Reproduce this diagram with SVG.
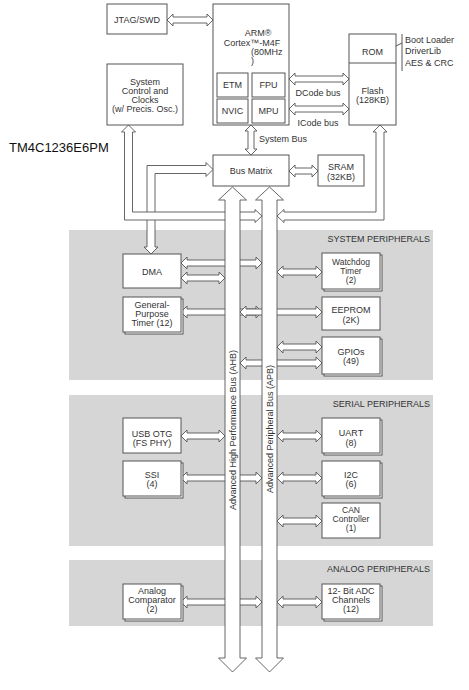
<svg xmlns="http://www.w3.org/2000/svg" width="469" height="690" viewBox="0 0 469 690">
<style>
text{font-family:"Liberation Sans",Arial,sans-serif;font-size:9px;fill:#333;text-anchor:middle}
.box{fill:#fff;stroke:#555;stroke-width:1}
.arr{fill:#fff;stroke:#555;stroke-width:0.9;stroke-linejoin:miter}
.panel{fill:#d6d6d6;stroke:none}
.pl{text-anchor:end}
.st{text-anchor:start}
.sm{font-size:8.5px}
</style>
<rect width="469" height="690" fill="#fff"/>
<g id="panels">
<rect class="panel" x="69" y="230" width="364" height="150"/>
<text class="pl" x="430" y="242">SYSTEM PERIPHERALS</text>
<rect class="panel" x="69" y="395" width="364" height="151"/>
<text class="pl" x="430" y="407">SERIAL PERIPHERALS</text>
<rect class="panel" x="69" y="560" width="364" height="66"/>
<text class="pl" x="430" y="572">ANALOG PERIPHERALS</text>
</g>
<text id="title" class="st" x="9" y="152" style="font-size:13px;fill:#111">TM4C1236E6PM</text>
<g id="connectors">
<path class="arr" d="M167,20 L173,14 L173,17 L207,17 L207,14 L213,20 L207,26 L207,23 L173,23 L173,26 Z"/>
<path class="arr" d="M289,79 L295,73 L295,76 L343,76 L343,73 L349,79 L343,85 L343,82 L295,82 L295,85 Z"/>
<text x="318" y="96">DCode bus</text>
<path class="arr" d="M289,109 L295,103 L295,106 L343,106 L343,103 L349,109 L343,115 L343,112 L295,112 L295,115 Z"/>
<text x="318" y="126">ICode bus</text>
<path class="arr" d="M251,125 L257,131 L254,131 L254,149 L257,149 L251,155 L245,149 L248,149 L248,131 L245,131 Z"/>
<text class="st" x="259" y="142">System Bus</text>
<path class="arr" d="M289,171 L295,165 L295,168 L312,168 L312,165 L318,171 L312,177 L312,174 L295,174 L295,177 Z"/>
<path class="arr" d="M213,169.5 L206,176.5 L206,173.5 L155,173.5 L155,247 L158,247 L151,254 L144,247 L147,247 L147,165.5 L206,165.5 L206,162.5 Z"/>
<path class="arr" d="M128.5,125 L135.5,132 L132.5,132 L132.5,212 L255,212 L255,209.5 L262,216 L255,222.5 L255,220 L124.5,220 L124.5,132 L121.5,132 Z"/>
<path class="arr" d="M380,125 L387,132 L384,132 L384,220 L284,220 L284,222.5 L277,216 L284,209.5 L284,212 L376,212 L376,132 L373,132 Z"/>
<path class="arr" d="M181,263 L187,257 L187,260 L256,260 L256,257 L262,263 L256,269 L256,266 L187,266 L187,269 Z"/>
<path class="arr" d="M181,312 L187,306 L187,309 L256,309 L256,306 L262,312 L256,318 L256,315 L187,315 L187,318 Z"/>
<path class="arr" d="M240,312 L246,306 L246,309 L316,309 L316,306 L322,312 L316,318 L316,315 L246,315 L246,318 Z"/>
<path class="arr" d="M240,363 L246,357 L246,360 L316,360 L316,357 L322,363 L316,369 L316,366 L246,366 L246,369 Z"/>
<path class="arr" d="M181,478 L187,472 L187,475 L256,475 L256,472 L262,478 L256,484 L256,481 L187,481 L187,484 Z"/>
<path class="arr" d="M181,602 L187,596 L187,599 L256,599 L256,596 L262,602 L256,608 L256,605 L187,605 L187,608 Z"/>
<path id="ahb" class="arr" d="M232.5,187 L246.5,200 L240,200 L240,658 L246.5,658 L232.5,672 L218.5,658 L225,658 L225,200 L218.5,200 Z"/>
<path id="apb" class="arr" d="M269.5,187 L283.5,200 L277,200 L277,658 L283.5,658 L269.5,672 L255.5,658 L262,658 L262,200 L255.5,200 Z"/>
<text transform="translate(236,430) rotate(-90)">Advanced High Performance Bus (AHB)</text>
<text transform="translate(273,429) rotate(-90)">Advanced Peripheral Bus (APB)</text>
<path class="arr" d="M181,278 L187,272 L187,275 L219,275 L219,272 L225,278 L219,284 L219,281 L187,281 L187,284 Z"/>
<path class="arr" d="M277,272 L283,266 L283,269 L316,269 L316,266 L322,272 L316,278 L316,275 L283,275 L283,278 Z"/>
<path class="arr" d="M277,347 L283,341 L283,344 L316,344 L316,341 L322,347 L316,353 L316,350 L283,350 L283,353 Z"/>
<path class="arr" d="M181,436 L187,430 L187,433 L219,433 L219,430 L225,436 L219,442 L219,439 L187,439 L187,442 Z"/>
<path class="arr" d="M277,436 L283,430 L283,433 L316,433 L316,430 L322,436 L316,442 L316,439 L283,439 L283,442 Z"/>
<path class="arr" d="M277,478 L283,472 L283,475 L316,475 L316,472 L322,478 L316,484 L316,481 L283,481 L283,484 Z"/>
<path class="arr" d="M277,521 L283,515 L283,518 L316,518 L316,515 L322,521 L316,527 L316,524 L283,524 L283,527 Z"/>
<path class="arr" d="M277,602 L283,596 L283,599 L316,599 L316,596 L322,602 L316,608 L316,605 L283,605 L283,608 Z"/>
</g>
<g id="jtag"><rect class="box" x="107" y="4" width="60" height="30"/><text x="137" y="23">JTAG/SWD</text></g>
<g id="arm">
<rect class="box" x="213" y="4" width="76" height="121"/>
<text x="258" y="36">ARM®</text>
<text x="252" y="46">Cortex™-M4F</text>
<text class="st" x="251" y="55">(80MHz</text>
<text class="st" x="251" y="64">)</text>
<rect class="box" x="217" y="73" width="31" height="24"/><text x="232.5" y="88">ETM</text>
<rect class="box" x="252" y="73" width="33" height="24"/><text x="268.5" y="88">FPU</text>
<rect class="box" x="217" y="99" width="31" height="24"/><text x="232.5" y="114">NVIC</text>
<rect class="box" x="252" y="99" width="33" height="24"/><text x="268.5" y="114">MPU</text>
</g>
<g id="memory">
<rect class="box" x="349" y="34" width="47" height="91"/>
<line x1="349" y1="63" x2="396" y2="63" stroke="#555" stroke-width="1"/>
<text x="372.5" y="55">ROM</text>
<text x="372.5" y="94">Flash</text>
<text x="372.5" y="103">(128KB)</text>
<path d="M396,46 L402,43 M402,34 L402,71" fill="none" stroke="#555" stroke-width="1"/>
<text class="st" x="405" y="43">Boot Loader</text>
<text class="st" x="405" y="54">DriverLib</text>
<text class="st" x="405" y="66">AES &amp; CRC</text>
</g>
<g id="sysctrl">
<rect class="box" x="107" y="64" width="76" height="61"/>
<text x="145" y="85">System</text>
<text x="145" y="94">Control and</text>
<text x="145" y="103">Clocks</text>
<text x="145" y="112">(w/ Precis. Osc.)</text>
</g>
<g id="busmatrix"><rect class="box" x="213" y="155" width="76" height="31"/><text x="251" y="174">Bus Matrix</text></g>
<g id="sram"><rect class="box" x="318" y="155" width="46" height="31"/><text x="341" y="170">SRAM</text><text x="341" y="180">(32KB)</text></g>
<g id="dma"><rect class="box" x="123" y="254" width="58" height="34"/><text x="152" y="275">DMA</text></g>
<g id="gpt"><rect class="box" x="125" y="299" width="58" height="35"/><rect class="box" x="123" y="297" width="58" height="35"/><text x="152" y="308">General-</text><text x="152" y="317">Purpose</text><text x="152" y="326">Timer (12)</text></g>
<g id="watchdog"><rect class="box" x="324" y="255" width="58" height="36"/><rect class="box" x="322" y="253" width="58" height="36"/><text class="sm" x="351" y="265">Watchdog</text><text class="sm" x="351" y="274">Timer</text><text class="sm" x="351" y="283">(2)</text></g>
<g id="eeprom"><rect class="box" x="322" y="297" width="58" height="33"/><text x="351" y="313">EEPROM</text><text x="351" y="323">(2K)</text></g>
<g id="gpio"><rect class="box" x="324" y="339" width="58" height="37"/><rect class="box" x="322" y="337" width="58" height="37"/><text x="351" y="355">GPIOs</text><text x="351" y="364">(49)</text></g>
<g id="usb"><rect class="box" x="123" y="418" width="58" height="35"/><text x="152" y="437">USB OTG</text><text x="152" y="446">(FS PHY)</text></g>
<g id="ssi"><rect class="box" x="125" y="463" width="58" height="35"/><rect class="box" x="123" y="461" width="58" height="35"/><text x="152" y="478">SSI</text><text x="152" y="487">(4)</text></g>
<g id="uart"><rect class="box" x="324" y="420" width="58" height="35"/><rect class="box" x="322" y="418" width="58" height="35"/><text x="351" y="436">UART</text><text x="351" y="446">(8)</text></g>
<g id="i2c"><rect class="box" x="324" y="463" width="58" height="35"/><rect class="box" x="322" y="461" width="58" height="35"/><text x="351" y="478">I2C</text><text x="351" y="487">(6)</text></g>
<g id="can"><rect class="box" x="322" y="503" width="58" height="35"/><text class="sm" x="351" y="513">CAN</text><text class="sm" x="351" y="522">Controller</text><text class="sm" x="351" y="531">(1)</text></g>
<g id="acomp"><rect class="box" x="125" y="586" width="58" height="35"/><rect class="box" x="123" y="584" width="58" height="35"/><text x="152" y="594">Analog</text><text x="152" y="603">Comparator</text><text x="152" y="612">(2)</text></g>
<g id="adc"><rect class="box" x="324" y="586" width="58" height="35"/><rect class="box" x="322" y="584" width="58" height="35"/><text x="351" y="594">12- Bit ADC</text><text x="351" y="603">Channels</text><text x="351" y="612">(12)</text></g>
</svg>
